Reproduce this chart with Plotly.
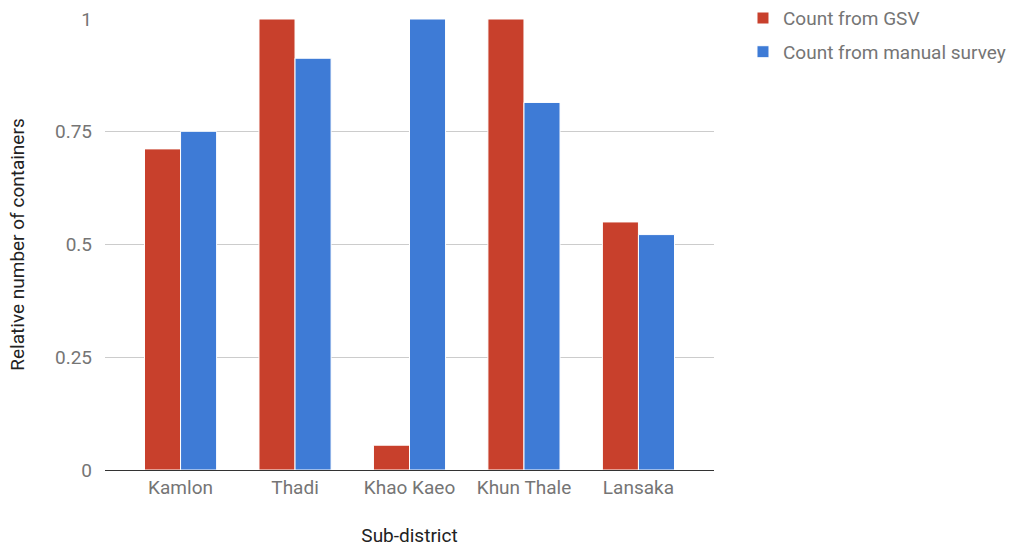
import plotly.graph_objects as go

categories = ["Kamlon", "Thadi", "Khao Kaeo", "Khun Thale", "Lansaka"]
gsv = [0.712, 1.0, 0.055, 1.0, 0.550]
manual = [0.751, 0.913, 1.0, 0.815, 0.522]
y_ticks = [0, 0.25, 0.5, 0.75, 1]
y_tick_labels = ["0", "0.25", "0.5", "0.75", "1"]

fig = go.Figure()
fig.add_trace(go.Bar(x=categories, y=gsv, name="Count from GSV", legendgroup="a",
                     marker=dict(color="#c8402c", line=dict(color="white", width=1))))
fig.add_trace(go.Bar(x=categories, y=manual, name="Count from manual survey", legendgroup="b",
                     marker=dict(color="#3e7bd6", line=dict(color="white", width=1))))

fig.update_layout(
    width=1013, height=547,
    margin=dict(l=105, r=299, t=19, b=77, autoexpand=False),
    paper_bgcolor="white", plot_bgcolor="white",
    font=dict(family="Roboto", size=19, color="#757575"),
    barmode="group", bargap=0.37, bargroupgap=0,
    showlegend=True,
    legend=dict(x=1.0476, y=1.044, xanchor="left", yanchor="top",
                font=dict(size=19, color="#757575"), tracegroupgap=6,
                itemwidth=30),
    xaxis=dict(range=[-0.66, 4.66], showgrid=False, showline=False,
               ticks="", ticklabelstandoff=4, tickfont=dict(size=19, color="#757575"),
               title=dict(text="Sub-district", font=dict(size=19, color="#222222"), standoff=30)),
    yaxis=dict(range=[0, 1], tickvals=y_ticks, ticktext=y_tick_labels,
               showgrid=True, gridcolor="#cccccc", gridwidth=1,
               zeroline=True, zerolinecolor="#333333", zerolinewidth=1,
               ticks="", ticklabelstandoff=12,
               tickfont=dict(size=19, color="#757575"),
               title=dict(text="Relative number of containers", font=dict(size=19, color="#222222"), standoff=25)),
)

fig.write_html("out.html")
